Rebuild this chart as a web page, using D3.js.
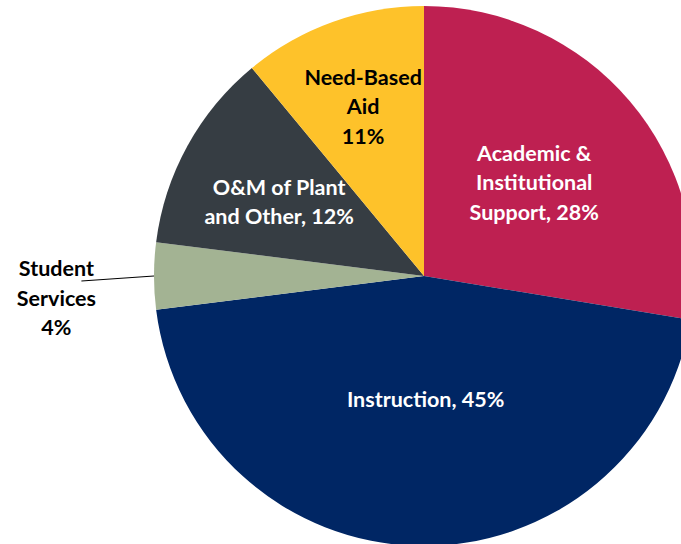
<!DOCTYPE html>
<html>
<head>
<meta charset="utf-8">
<script src="https://cdn.jsdelivr.net/npm/d3@7"></script>
<style>
  body { margin: 0; background: #fff; }
  svg { display: block; }
  text { font-family: Lato, "Open Sans", sans-serif; font-weight: bold; font-size: 21.5px; }
</style>
</head>
<body>
<div id="pie"></div>
<script>
// chart data
var categories = ["Academic & Institutional Support", "Instruction", "Student Services", "O&M of Plant and Other", "Need-Based Aid"];
var values = [27.6, 45.4, 4, 12, 11];
var labelLines = [
    ["Academic &", "Institutional", "Support, 28%"],
    ["Instruction, 45%"],
    ["Student", "Services", "4%"],
    ["O&M of Plant", "and Other, 12%"],
    ["Need-Based", "Aid", "11%"]
];
var colors = ["#BE2051", "#002664", "#A3B393", "#363D43", "#FEC22A"];
var textColors = ["#fff", "#fff", "#000", "#fff", "#000"];

function init() {
    createPie();
}

function createPie() {
    var width = 681,
        height = 544,
        cx = 424,
        cy = 276,
        radius = 270;

    var svg = d3.select("div#pie")
        .append("svg")
        .attr("width", width)
        .attr("height", height);

    var g = svg.append("g")
        .attr("transform", "translate(" + cx + "," + cy + ")");

    var pie = d3.pie().sort(null).value(function(d) { return d; });
    var arc = d3.arc().innerRadius(0).outerRadius(radius);
    var arcs = pie(values);

    // slices
    g.selectAll("path")
        .data(arcs)
        .enter()
        .append("path")
        .attr("fill", function(d, i) { return colors[i]; })
        .attr("d", arc);

    // label positions, as a fraction of radius along the slice mid angle
    var labelRadius = [0.55, 0.47, 1.38, 0.57, 0.6];
    var labelShift = [[-3, 3], [4, -3], [5, 22], [-10, 0], [-6, -17]];
    var lineH = 29.5;

    arcs.forEach(function(d, i) {
        var mid = (d.startAngle + d.endAngle) / 2;
        var r = radius * labelRadius[i];
        var x = Math.sin(mid) * r + labelShift[i][0];
        var y = -Math.cos(mid) * r + labelShift[i][1];
        var lines = labelLines[i];
        var t = g.append("text")
            .attr("text-anchor", "middle")
            .attr("fill", textColors[i])
            .attr("transform", "translate(" + x + "," + y + ")");
        lines.forEach(function(s, k) {
            t.append("tspan")
                .attr("x", 0)
                .attr("y", (k - (lines.length - 1) / 2) * lineH)
                .attr("dy", "0.35em")
                .text(s);
        });
        // leader line for the small slice
        if (i == 2) {
            var ex = Math.sin(mid) * radius, ey = -Math.cos(mid) * radius;
            g.append("line")
                .attr("x1", ex).attr("y1", ey)
                .attr("x2", x + 25).attr("y2", y - 17)
                .attr("stroke", "#000")
                .attr("stroke-width", 1.2);
        }
    });
}

init();
</script>
</body>
</html>
